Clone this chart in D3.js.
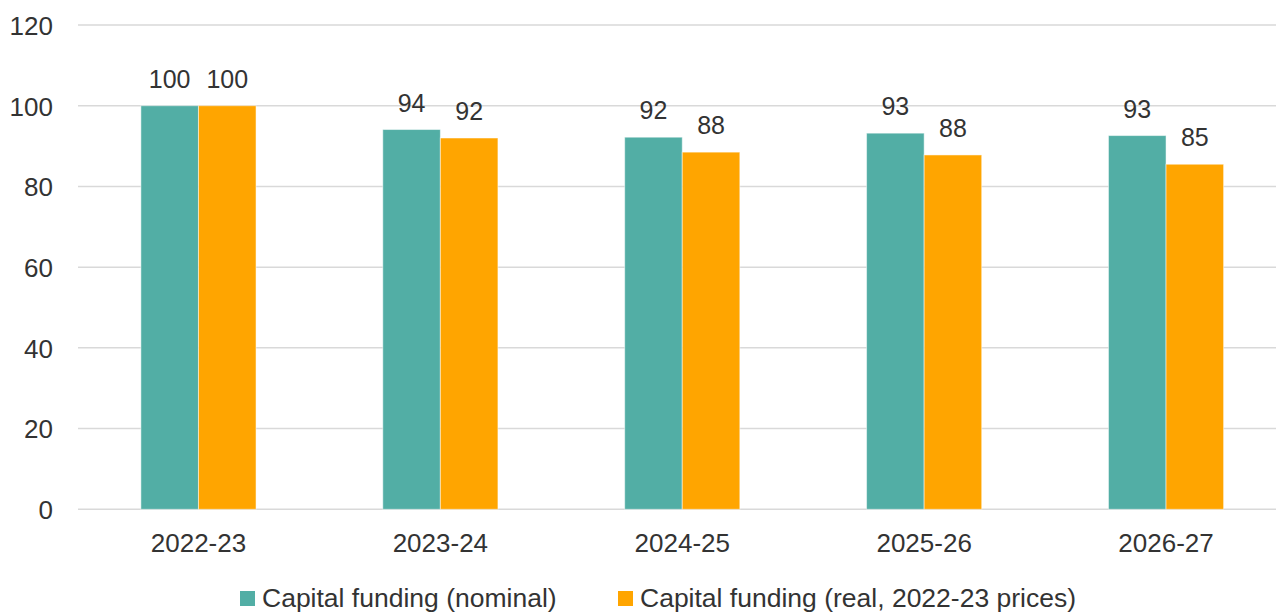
<!DOCTYPE html>
<html><head><meta charset="utf-8">
<script src="https://cdn.jsdelivr.net/npm/d3@7"></script>
<style>body{margin:0;background:#fff}svg{display:block}text{font-family:"Liberation Sans",Arial,sans-serif;fill:#333}</style>
</head><body>
<svg id="c" width="1276" height="612"></svg>
<script>
const categories = ["2022-23","2023-24","2024-25","2025-26","2026-27"];
const nominal = [100, 94.1, 92.2, 93.2, 92.6];
const real = [100, 92.0, 88.5, 87.8, 85.5];
const nominalLabels = ["100","94","92","93","93"];
const realLabels = ["100","92","88","88","85"];
const yTicks = [0,20,40,60,80,100,120];
const seriesNames = ["Capital funding (nominal)","Capital funding (real, 2022-23 prices)"];
const colors = ["#52AEA5","#FFA500"];

const svg = d3.select("#c");
const x0 = d3.scaleBand().domain(categories).range([78,1286.5]).paddingInner(0.524).paddingOuter(0.26);
const x1 = d3.scaleBand().domain([0,1]).range([0,x0.bandwidth()]);
const y = d3.scaleLinear().domain([0,120]).range([509.3,25]);

// gridlines
svg.append("g").selectAll("line").data(yTicks).join("line")
  .attr("x1",78).attr("x2",1276).attr("y1",d=>y(d)).attr("y2",d=>y(d))
  .attr("stroke","#d9d9d9").attr("stroke-width",1.5);

// y axis labels
const yAxis = d3.axisLeft(y).tickValues(yTicks).tickSize(0).tickPadding(0);
const ya = svg.append("g").attr("transform","translate(53,0)").call(yAxis);
ya.select(".domain").remove();
ya.selectAll("text").attr("font-size",26).attr("fill","#333").attr("dy","0.36em").style("font-family","Liberation Sans, Arial, sans-serif");

// x axis labels
const xAxis = d3.axisBottom(x0).tickSize(0).tickPadding(0);
const xa = svg.append("g").attr("transform","translate(0,533)").call(xAxis);
xa.select(".domain").remove();
xa.selectAll("text").attr("font-size",26).attr("fill","#333").attr("dy","0.72em").style("font-family","Liberation Sans, Arial, sans-serif");

const series = [nominal, real];
const labels = [nominalLabels, realLabels];
series.forEach((vals,si)=>{
  const g = svg.append("g");
  g.selectAll("rect").data(vals).join("rect")
    .attr("x",(d,i)=>x0(categories[i])+x1(si))
    .attr("width",x1.bandwidth())
    .attr("y",d=>y(d)).attr("height",d=>y(0)-y(d))
    .attr("fill",colors[si]).attr("stroke","rgba(255,255,255,0.5)").attr("stroke-width",1);
  g.selectAll("text").data(vals).join("text")
    .attr("x",(d,i)=>x0(categories[i])+x1(si)+x1.bandwidth()/2)
    .attr("y",d=>y(d)-18)
    .attr("text-anchor","middle").attr("font-size",25)
    .text((d,i)=>labels[si][i]);
});

// legend
const legX = [240,618];
seriesNames.forEach((n,i)=>{
  svg.append("rect").attr("x",legX[i]).attr("y",591).attr("width",15).attr("height",15).attr("fill",colors[i]);
  svg.append("text").attr("x",legX[i]+22).attr("y",607).attr("font-size",26.5).text(n);
});
</script>
</body></html>
